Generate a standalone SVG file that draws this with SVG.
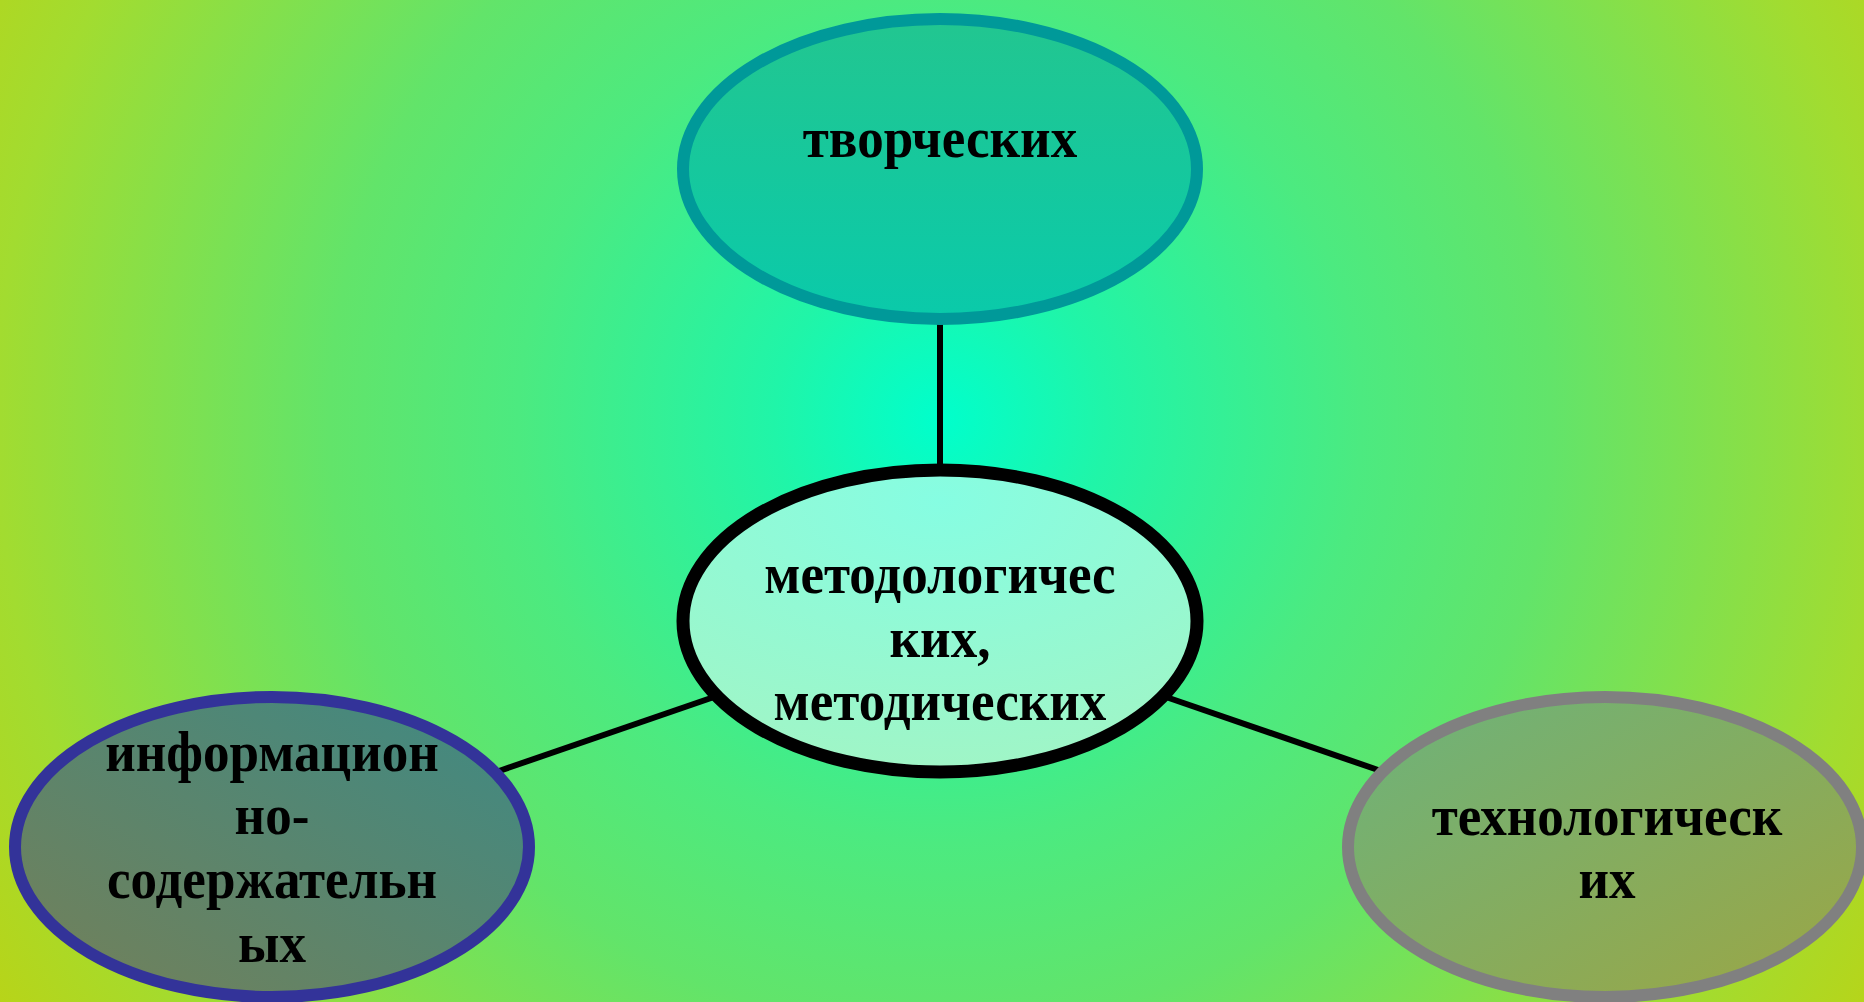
<svg xmlns="http://www.w3.org/2000/svg" width="1864" height="1002" viewBox="0 0 1864 1002">
<defs>
<radialGradient id="bg" gradientUnits="userSpaceOnUse" cx="940" cy="420" r="1110">
<stop offset="0" stop-color="#00ffcc"/>
<stop offset="0.15" stop-color="#20f5a8"/>
<stop offset="0.38" stop-color="#4cea80"/>
<stop offset="0.55" stop-color="#62e46a"/>
<stop offset="0.85" stop-color="#a2dc30"/>
<stop offset="1" stop-color="#b8d418"/>
</radialGradient>
<linearGradient id="gTop" x1="0" y1="0" x2="0" y2="1">
<stop offset="0" stop-color="#22c690"/>
<stop offset="1" stop-color="#0acaaa"/>
</linearGradient>
<radialGradient id="gCenter" cx="0.5" cy="0.1" r="0.9">
<stop offset="0" stop-color="#86fde2"/>
<stop offset="1" stop-color="#a0f5c6"/>
</radialGradient>
<linearGradient id="gLeft" x1="0" y1="1" x2="1" y2="0">
<stop offset="0" stop-color="#748058"/>
<stop offset="1" stop-color="#3e8a84"/>
</linearGradient>
<linearGradient id="gRight" x1="0" y1="0" x2="1" y2="1">
<stop offset="0" stop-color="#6cb37c"/>
<stop offset="1" stop-color="#9ca644"/>
</linearGradient>
<style>
.t{font-family:"Liberation Serif","Times New Roman",serif;font-weight:bold;font-size:58px;fill:#000;text-anchor:middle}
.conn{stroke:#000;stroke-width:6;fill:none}
</style>
</defs>
<rect width="1864" height="1002" fill="url(#bg)"/>
<g id="connectors">
<line class="conn" x1="940" y1="322" x2="940" y2="468"/>
<line class="conn" x1="714" y1="697" x2="499" y2="771"/>
<line class="conn" x1="1166" y1="697" x2="1381" y2="771"/>
</g>
<g id="node-top">
<ellipse cx="940" cy="169" rx="257" ry="150" fill="url(#gTop)" stroke="#009999" stroke-width="12"/>
<g transform="translate(940,0) scale(0.915,1) translate(-940,0)">
<text class="t" x="940" y="157">творческих</text>
</g>
</g>
<g id="node-center">
<ellipse cx="940" cy="621" rx="257" ry="151" fill="url(#gCenter)" stroke="#000" stroke-width="13"/>
<g transform="translate(940,0) scale(0.915,1) translate(-940,0)">
<text class="t" x="940" y="593">методологичес</text>
<text class="t" x="940" y="657">ких,</text>
<text class="t" x="940" y="720">методических</text>
</g>
</g>
<g id="node-left">
<ellipse cx="272" cy="847" rx="257" ry="150" fill="url(#gLeft)" stroke="#333399" stroke-width="12"/>
<g transform="translate(272,0) scale(0.915,1) translate(-272,0)">
<text class="t" x="272" y="771">информацион</text>
<text class="t" x="272" y="834">но-</text>
<text class="t" x="272" y="898">содержательн</text>
<text class="t" x="272" y="962">ых</text>
</g>
</g>
<g id="node-right">
<ellipse cx="1605" cy="847" rx="257" ry="150" fill="url(#gRight)" stroke="#808080" stroke-width="12"/>
<g transform="translate(1607,0) scale(0.915,1) translate(-1607,0)">
<text class="t" x="1607" y="835">технологическ</text>
<text class="t" x="1607" y="898">их</text>
</g>
</g>
</svg>
